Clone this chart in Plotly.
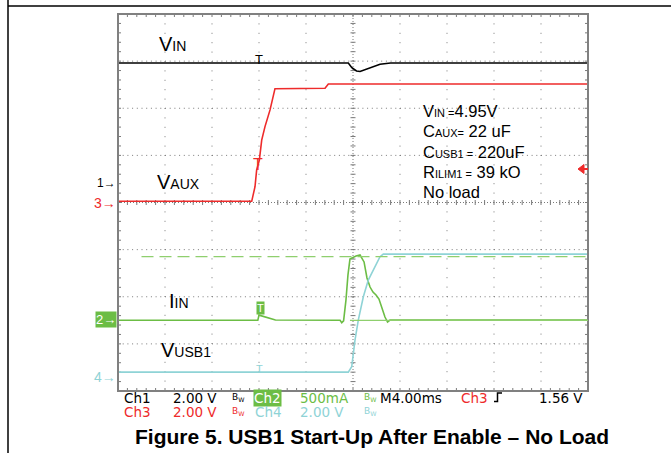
import plotly.graph_objects as go

# ---------------- data (time in ms relative to trigger) ----------------
ch1_t = [-12, 7.6, 7.9, 8.3, 8.6, 9.1, 9.6, 10.3, 11.2, 28]
ch1_v = [5.12, 5.12, 4.92, 4.78, 4.76, 4.86, 4.96, 5.07, 5.12, 5.12]          # V_IN (V)

ch3_t = [-12, -0.62, -0.34, -0.20, 0.03, 0.23, 0.51, 0.94, 1.36, 5.62, 5.90, 28]
ch3_v = [0.05, 0.05, 0.67, 1.38, 1.80, 2.65, 3.22, 3.93, 4.83, 4.85, 5.03, 5.03]  # V_AUX (V)

ch2_t = [-12, -0.1, 0.0, 1.4, 6.9, 7.04, 7.2, 7.4, 7.57, 7.74, 7.91, 8.26, 8.60,
         8.94, 9.19, 9.45, 9.70, 9.96, 10.21, 10.47, 10.72, 10.94, 11.15, 28]
ch2_i = [0, 0, 55, 3, 0, -25, -5, 215, 481, 650, 661, 682, 693,
         619, 449, 353, 300, 269, 226, 130, 35, -18, 3, 3]                     # I_IN (mA)

ch4_t = [-12, 7.60, 7.89, 8.17, 8.45, 8.88, 9.30, 9.87, 10.30, 10.58, 28]
ch4_v = [0.2, 0.2, 0.43, 1.56, 2.41, 3.40, 4.11, 4.68, 5.10, 5.21, 5.21]      # V_USB1 (V)

# channel scales (units/div) and ground positions (divisions from bottom)
ch_scale = {"ch1": 2.0, "ch2": 500.0, "ch3": 2.0, "ch4": 2.0}
ch_ground = {"ch1": 4.4, "ch2": 1.5, "ch3": 4.0, "ch4": 0.3}
cursor_hi_ma = 675
cursor_lo_ma = 0
cursor_lo_start = 7.74
cursor_hi_start = -10

time_range = [-12, 28]   # 4 ms/div, 10 div
n_ydiv = 8

status_row1 = [("Ch1", "#000000"), ("2.00 V", "#000000"), ("500mA", "#6cbd45"),
               ("M4.00ms", "#000000"), ("Ch3", "#ee2b2b"), ("1.56 V", "#000000")]
status_row2 = [("Ch3", "#ee2b2b"), ("2.00 V", "#ee2b2b"), ("Ch4", "#8fd3d6"), ("2.00 V", "#8fd3d6")]

BLACK = "#000000"
RED = "#ee2b2b"
GREEN = "#6cbd45"
CYAN = "#8fd3d6"
GRID = "#7a7a7a"
BORDER = "#808080"

# ---------------- geometry helpers ----------------
WIDTH, HEIGHT = 671, 453
L, R, T, B = 118, 588, 14, 391
PW, PH = R - L, B - T


def PX(x):
    return (x - L) / PW


def PY(y):
    return (B - y) / PH


def ax_range(ch):
    s, g = ch_scale[ch], ch_ground[ch]
    return [-g * s, (n_ydiv - g) * s]


fig = go.Figure()
fig.add_trace(go.Scatter(x=ch1_t, y=ch1_v, mode="lines", line=dict(color=BLACK, width=1.6), yaxis="y2"))
fig.add_trace(go.Scatter(x=ch3_t, y=ch3_v, mode="lines", line=dict(color=RED, width=1.6), yaxis="y3"))
fig.add_trace(go.Scatter(x=ch4_t, y=ch4_v, mode="lines", line=dict(color=CYAN, width=1.6), yaxis="y5"))
fig.add_trace(go.Scatter(x=ch2_t, y=ch2_i, mode="lines", line=dict(color=GREEN, width=1.6), yaxis="y4"))

shapes = []
# dotted graticule lines
xdiv = [time_range[0] + 4 * k for k in range(1, 10)]
for xv in xdiv:
    if xv == 8:
        continue
    shapes.append(dict(type="line", xref="x", yref="y", x0=xv, x1=xv, y0=0, y1=n_ydiv,
                       line=dict(color=GRID, width=1, dash="1px,8.4px"), layer="below"))
for yv in range(1, n_ydiv):
    if yv == 4:
        continue
    shapes.append(dict(type="line", xref="x", yref="y", x0=time_range[0], x1=time_range[1], y0=yv, y1=yv,
                       line=dict(color=GRID, width=1, dash="1px,3.7px"), layer="below"))
# center cross lines
shapes.append(dict(type="line", xref="x", yref="y", x0=time_range[0], x1=time_range[1], y0=4, y1=4,
                   line=dict(color=GRID, width=1, dash="1px,2px"), layer="below"))
shapes.append(dict(type="line", xref="x", yref="y", x0=8, x1=8, y0=0, y1=n_ydiv,
                   line=dict(color=GRID, width=1, dash="1px,2px"), layer="below"))

# tick marks (border + center), in data units
pxx = (time_range[1] - time_range[0]) / PW
pxy = n_ydiv / PH
path = []
nsub_x = 50
nsub_y = 40
for k in range(1, nsub_x):
    xv = time_range[0] + k * 0.8
    path.append(f"M{xv:.3f},0 L{xv:.3f},{3 * pxy:.4f}")
    path.append(f"M{xv:.3f},{n_ydiv} L{xv:.3f},{n_ydiv - 3 * pxy:.4f}")
    path.append(f"M{xv:.3f},{4 - 2.5 * pxy:.4f} L{xv:.3f},{4 + 2.5 * pxy:.4f}")
for k in range(1, nsub_y):
    yv = k * 0.2
    path.append(f"M{time_range[0]},{yv:.3f} L{time_range[0] + 3 * pxx:.4f},{yv:.3f}")
    path.append(f"M{time_range[1]},{yv:.3f} L{time_range[1] - 3 * pxx:.4f},{yv:.3f}")
    path.append(f"M{8 - 2.5 * pxx:.4f},{yv:.3f} L{8 + 2.5 * pxx:.4f},{yv:.3f}")
shapes.append(dict(type="path", xref="x", yref="y", path=" ".join(path),
                   line=dict(color=GRID, width=1), layer="below"))

# border
shapes.append(dict(type="rect", xref="paper", yref="paper", x0=0, x1=1, y0=0, y1=1,
                   line=dict(color=BORDER, width=2)))

# cursors on ch2
shapes.append(dict(type="line", xref="x", yref="y4", x0=cursor_hi_start, x1=time_range[1],
                   y0=cursor_hi_ma, y1=cursor_hi_ma, line=dict(color="#8fcf6e", width=1.3, dash="12px,6px")))
shapes.append(dict(type="line", xref="x", yref="y4", x0=cursor_lo_start, x1=time_range[1],
                   y0=cursor_lo_ma, y1=cursor_lo_ma, line=dict(color="#8fcf6e", width=1.2)))

# outer page frame
shapes.append(dict(type="line", xref="paper", yref="paper", x0=PX(8), x1=PX(8), y0=PY(0), y1=PY(453),
                   line=dict(color="#000000", width=1.5)))
shapes.append(dict(type="line", xref="paper", yref="paper", x0=PX(8), x1=PX(671), y0=PY(6), y1=PY(6),
                   line=dict(color="#000000", width=1.5)))

# trigger level arrow (right edge)
shapes.append(dict(type="path", xref="paper", yref="paper",
                   path=f"M{PX(578)},{PY(169)} L{PX(584)},{PY(164.5)} L{PX(584)},{PY(173.5)} Z",
                   fillcolor=RED, line=dict(color=RED, width=1)))
shapes.append(dict(type="line", xref="paper", yref="paper", x0=PX(583), x1=PX(588), y0=PY(169), y1=PY(169),
                   line=dict(color=RED, width=2)))
# rising edge glyph
shapes.append(dict(type="path", xref="paper", yref="paper",
                   path=f"M{PX(494)},{PY(401.5)} L{PX(497.5)},{PY(401.5)} L{PX(497.5)},{PY(393)} L{PX(502)},{PY(393)}",
                   line=dict(color=BLACK, width=1.5)))

ann = []


def add_text(x, y, text, size, color=BLACK, family="Liberation Sans, Arial", xanchor="left", bg=None):
    d = dict(x=PX(x), y=PY(y), xref="paper", yref="paper", text=text, showarrow=False,
             xanchor=xanchor, yanchor="middle", font=dict(size=size, color=color, family=family))
    if bg:
        d["bgcolor"] = bg
        d["borderpad"] = 0
    ann.append(d)


def sub(t, size):
    return f"<span style='font-size:{size}px'>{t}</span>"


# waveform labels
add_text(157, 44, "V" + sub("IN", 14), 20)
add_text(155, 181.5, "V" + sub("AUX", 14), 20)
add_text(167, 301, "I" + sub("IN", 14), 20)
add_text(159, 349.5, "V" + sub("USB1", 14), 20)

# condition block
add_text(421, 111, "V" + sub("IN =", 11) + "4.95V", 16.5)
add_text(421, 131, "C" + sub("AUX=", 11) + " 22 uF", 16.5)
add_text(421, 152, "C" + sub("USB1 =", 11) + " 220uF", 16.5)
add_text(421, 172, "R" + sub("ILIM1 =", 11) + " 39 kO", 16.5)
add_text(421, 192, "No load", 16.5)

# ground markers
add_text(118, 183, "1→", 12, BLACK, xanchor="right")
add_text(118, 203.5, "3→", 14, RED, xanchor="right")
add_text(117, 319.5, "2→", 13, "#ffffff", xanchor="right", bg=GREEN)
add_text(118, 377.3, "4→", 14, CYAN, xanchor="right")

# trigger 'T' markers
add_text(259, 60, "T", 13, BLACK, xanchor="center")
add_text(258, 164, "T", 16, RED, xanchor="center")
add_text(259.5, 369, "T", 11, CYAN, xanchor="center")
add_text(260.3, 308.3, "T", 11, "#ffffff", xanchor="center", bg=GREEN)

# status bar
mono = "DejaVu Sans, Verdana"
row1_x = [121.5, 170.5, 298, 378, 459, 536.5]
for (txt, col), xx in zip(status_row1, row1_x):
    add_text(xx, 397.8, txt, 13.5, col, family=mono)
add_text(252.5, 397.8, "Ch2", 13.5, "#ffffff", family=mono, bg=GREEN)
row2_x = [121.5, 170.5, 253, 298]
for (txt, col), xx in zip(status_row2, row2_x):
    add_text(xx, 412.2, txt, 13.5, col, family=mono)
for xx, yy, col in [(230, 397, BLACK), (230, 411.5, RED), (362, 397, GREEN), (362, 411.5, CYAN)]:
    add_text(xx, yy, "B<sub>W</sub>", 9, col, family=mono)

# caption
add_text(371.5, 436, "<b>Figure 5. USB1 Start-Up After Enable – No Load</b>", 21, BLACK, xanchor="center")

hidden = dict(visible=False, fixedrange=True)
fig.update_layout(
    width=WIDTH, height=HEIGHT,
    margin=dict(l=L, r=WIDTH - R, t=T, b=HEIGHT - B, pad=0),
    paper_bgcolor="#ffffff", plot_bgcolor="#ffffff",
    showlegend=False,
    xaxis=dict(range=time_range, showgrid=False, zeroline=False, showticklabels=False, ticks="", showline=False),
    yaxis=dict(range=[0, n_ydiv], showgrid=False, zeroline=False, showticklabels=False, ticks="", showline=False),
    yaxis2=dict(range=ax_range("ch1"), overlaying="y", **hidden),
    yaxis3=dict(range=ax_range("ch3"), overlaying="y", **hidden),
    yaxis4=dict(range=ax_range("ch2"), overlaying="y", **hidden),
    yaxis5=dict(range=ax_range("ch4"), overlaying="y", **hidden),
    shapes=shapes,
    annotations=ann,
)

fig.write_html("out.html", config={"displayModeBar": False},
               post_script="document.body.style.margin='0';document.body.style.overflow='hidden';")
